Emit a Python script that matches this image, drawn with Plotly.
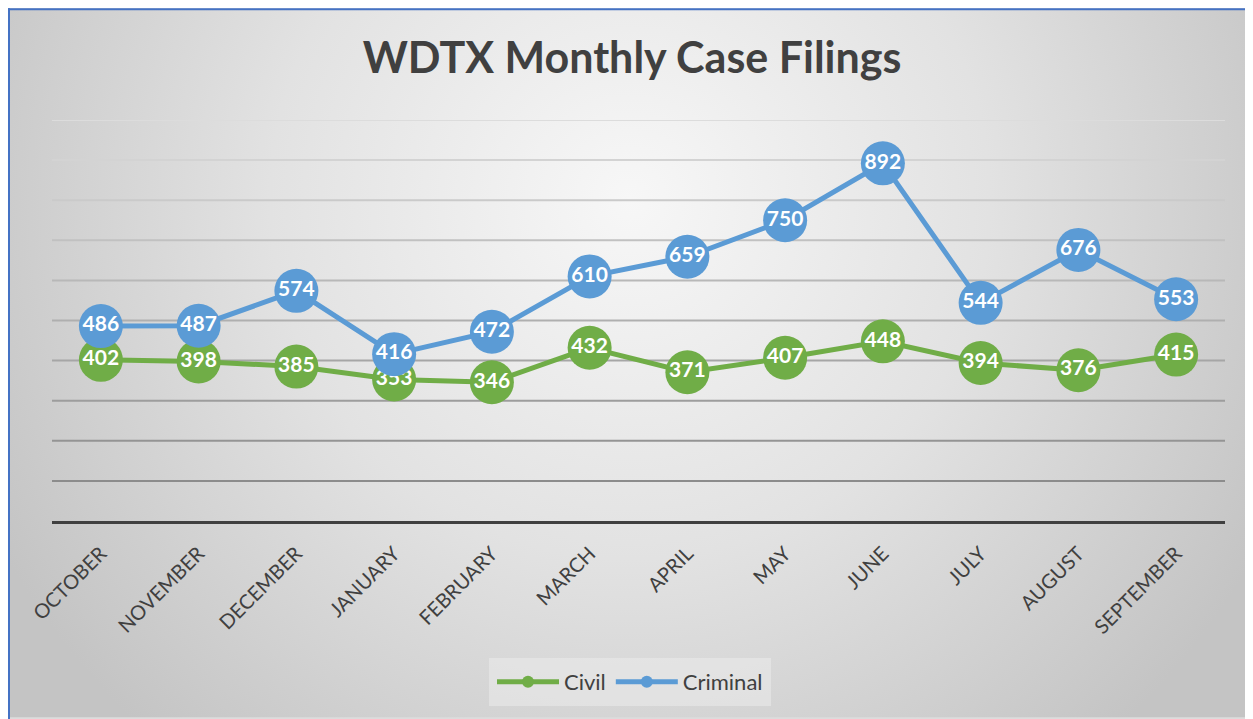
import base64
import plotly.graph_objects as go

months = ["OCTOBER", "NOVEMBER", "DECEMBER", "JANUARY", "FEBRUARY", "MARCH",
          "APRIL", "MAY", "JUNE", "JULY", "AUGUST", "SEPTEMBER"]
civil = [402, 398, 385, 353, 346, 432, 371, 407, 448, 394, 376, 415]
criminal = [486, 487, 574, 416, 472, 610, 659, 750, 892, 544, 676, 553]

# page offset of the plot div (body margin)
OFF = 8
PAGE_W, PAGE_H = 1253, 719
W, H = PAGE_W - OFF, PAGE_H - OFF
L, T = 52 - OFF, 120 - OFF
R = W - (1225 - OFF)
B = H - (522 - OFF)
pw, ph = W - L - R, H - T - B

def px_x(x):  # page pixel -> paper x
    return (x - OFF - L) / pw

def px_y(y):  # page pixel -> paper y
    return (H - B - (y - OFF)) / ph

svg = f'''<svg xmlns="http://www.w3.org/2000/svg" width="{W}" height="{H}" viewBox="0 0 {W} {H}">
<defs><radialGradient id="g" gradientUnits="userSpaceOnUse" cx="{630 - OFF}" cy="{200 - OFF}" r="720">
<stop offset="0" stop-color="#f7f7f7"/><stop offset="0.5" stop-color="#e2e2e2"/><stop offset="1" stop-color="#c4c4c4"/>
</radialGradient></defs><rect x="0" y="0" width="{W}" height="{H}" fill="url(#g)"/></svg>'''
bg_uri = "data:image/svg+xml;base64," + base64.b64encode(svg.encode()).decode()

FONT = "Lato, 'Open Sans', sans-serif"
GREEN = "#70AD47"
BLUE = "#5B9BD5"

fig = go.Figure()
for name, vals, col in [("Civil", civil, GREEN), ("Criminal", criminal, BLUE)]:
    fig.add_trace(go.Scatter(
        x=months, y=vals, name=name, mode="lines+markers+text",
        line=dict(color=col, width=5),
        marker=dict(color=col, size=44),
        text=[str(v) for v in vals], textposition="middle center",
        textfont=dict(family=FONT, size=21, color="white", weight="bold"),
        cliponaxis=False,
    ))

# graded gridlines (lighter at top, darker at bottom)
grid_vals = list(range(100, 1001, 100))
for gv in grid_vals:
    t = (gv - 100) / 900
    c = int(0x8c + (0xdc - 0x8c) * t)
    fig.add_shape(type="line", xref="paper", x0=0, x1=1, yref="y", y0=gv, y1=gv,
                  line=dict(color=f"rgb({c},{c},{c})", width=2), layer="below")

# chart border (left and top)
fig.add_shape(type="line", xref="paper", yref="paper", x0=px_x(OFF + 1), x1=px_x(OFF + 1),
              y0=px_y(OFF), y1=px_y(PAGE_H + 2), line=dict(color="#4472C4", width=2))
fig.add_shape(type="line", xref="paper", yref="paper", x0=px_x(OFF), x1=px_x(PAGE_W + 2),
              y0=px_y(OFF + 1), y1=px_y(OFF + 1), line=dict(color="#4472C4", width=2))

fig.add_layout_image(dict(source=bg_uri, xref="paper", yref="paper",
                          x=px_x(OFF), y=px_y(OFF), sizex=W / pw, sizey=H / ph,
                          xanchor="left", yanchor="top", sizing="stretch", layer="below"))

fig.update_layout(
    width=W, height=H,
    margin=dict(l=L, r=R, t=T, b=B),
    paper_bgcolor="#dcdcdc", plot_bgcolor="rgba(0,0,0,0)",
    title=dict(text="<b>WDTX Monthly Case Filings</b>", x=(632 - OFF) / W, xref="container",
               xanchor="center", y=1 - (58 - OFF) / H, yref="container", yanchor="middle",
               font=dict(family=FONT, size=43, color="#404040")),
    showlegend=True,
    legend=dict(orientation="h", x=px_x(630), xanchor="center", xref="paper",
                y=px_y(682), yanchor="middle",
                bgcolor="rgba(238,238,238,0.5)",
                bordercolor="rgba(238,238,238,0.0)", borderwidth=6,
                font=dict(family=FONT, size=22, color="#404040"),
                itemsizing="constant", itemwidth=62, traceorder="normal"),
    xaxis=dict(type="category", range=[-0.5, 11.5], showgrid=False, zeroline=False,
               showline=True, linecolor="#404040", linewidth=3,
               tickangle=-45, ticks="", ticklabelstandoff=10,
               tickfont=dict(family=FONT, size=20, color="#404040")),
    yaxis=dict(range=[0, 1000], showgrid=False, zeroline=False, showticklabels=False,
               showline=False, fixedrange=True),
)

fig.write_html("out.html")
